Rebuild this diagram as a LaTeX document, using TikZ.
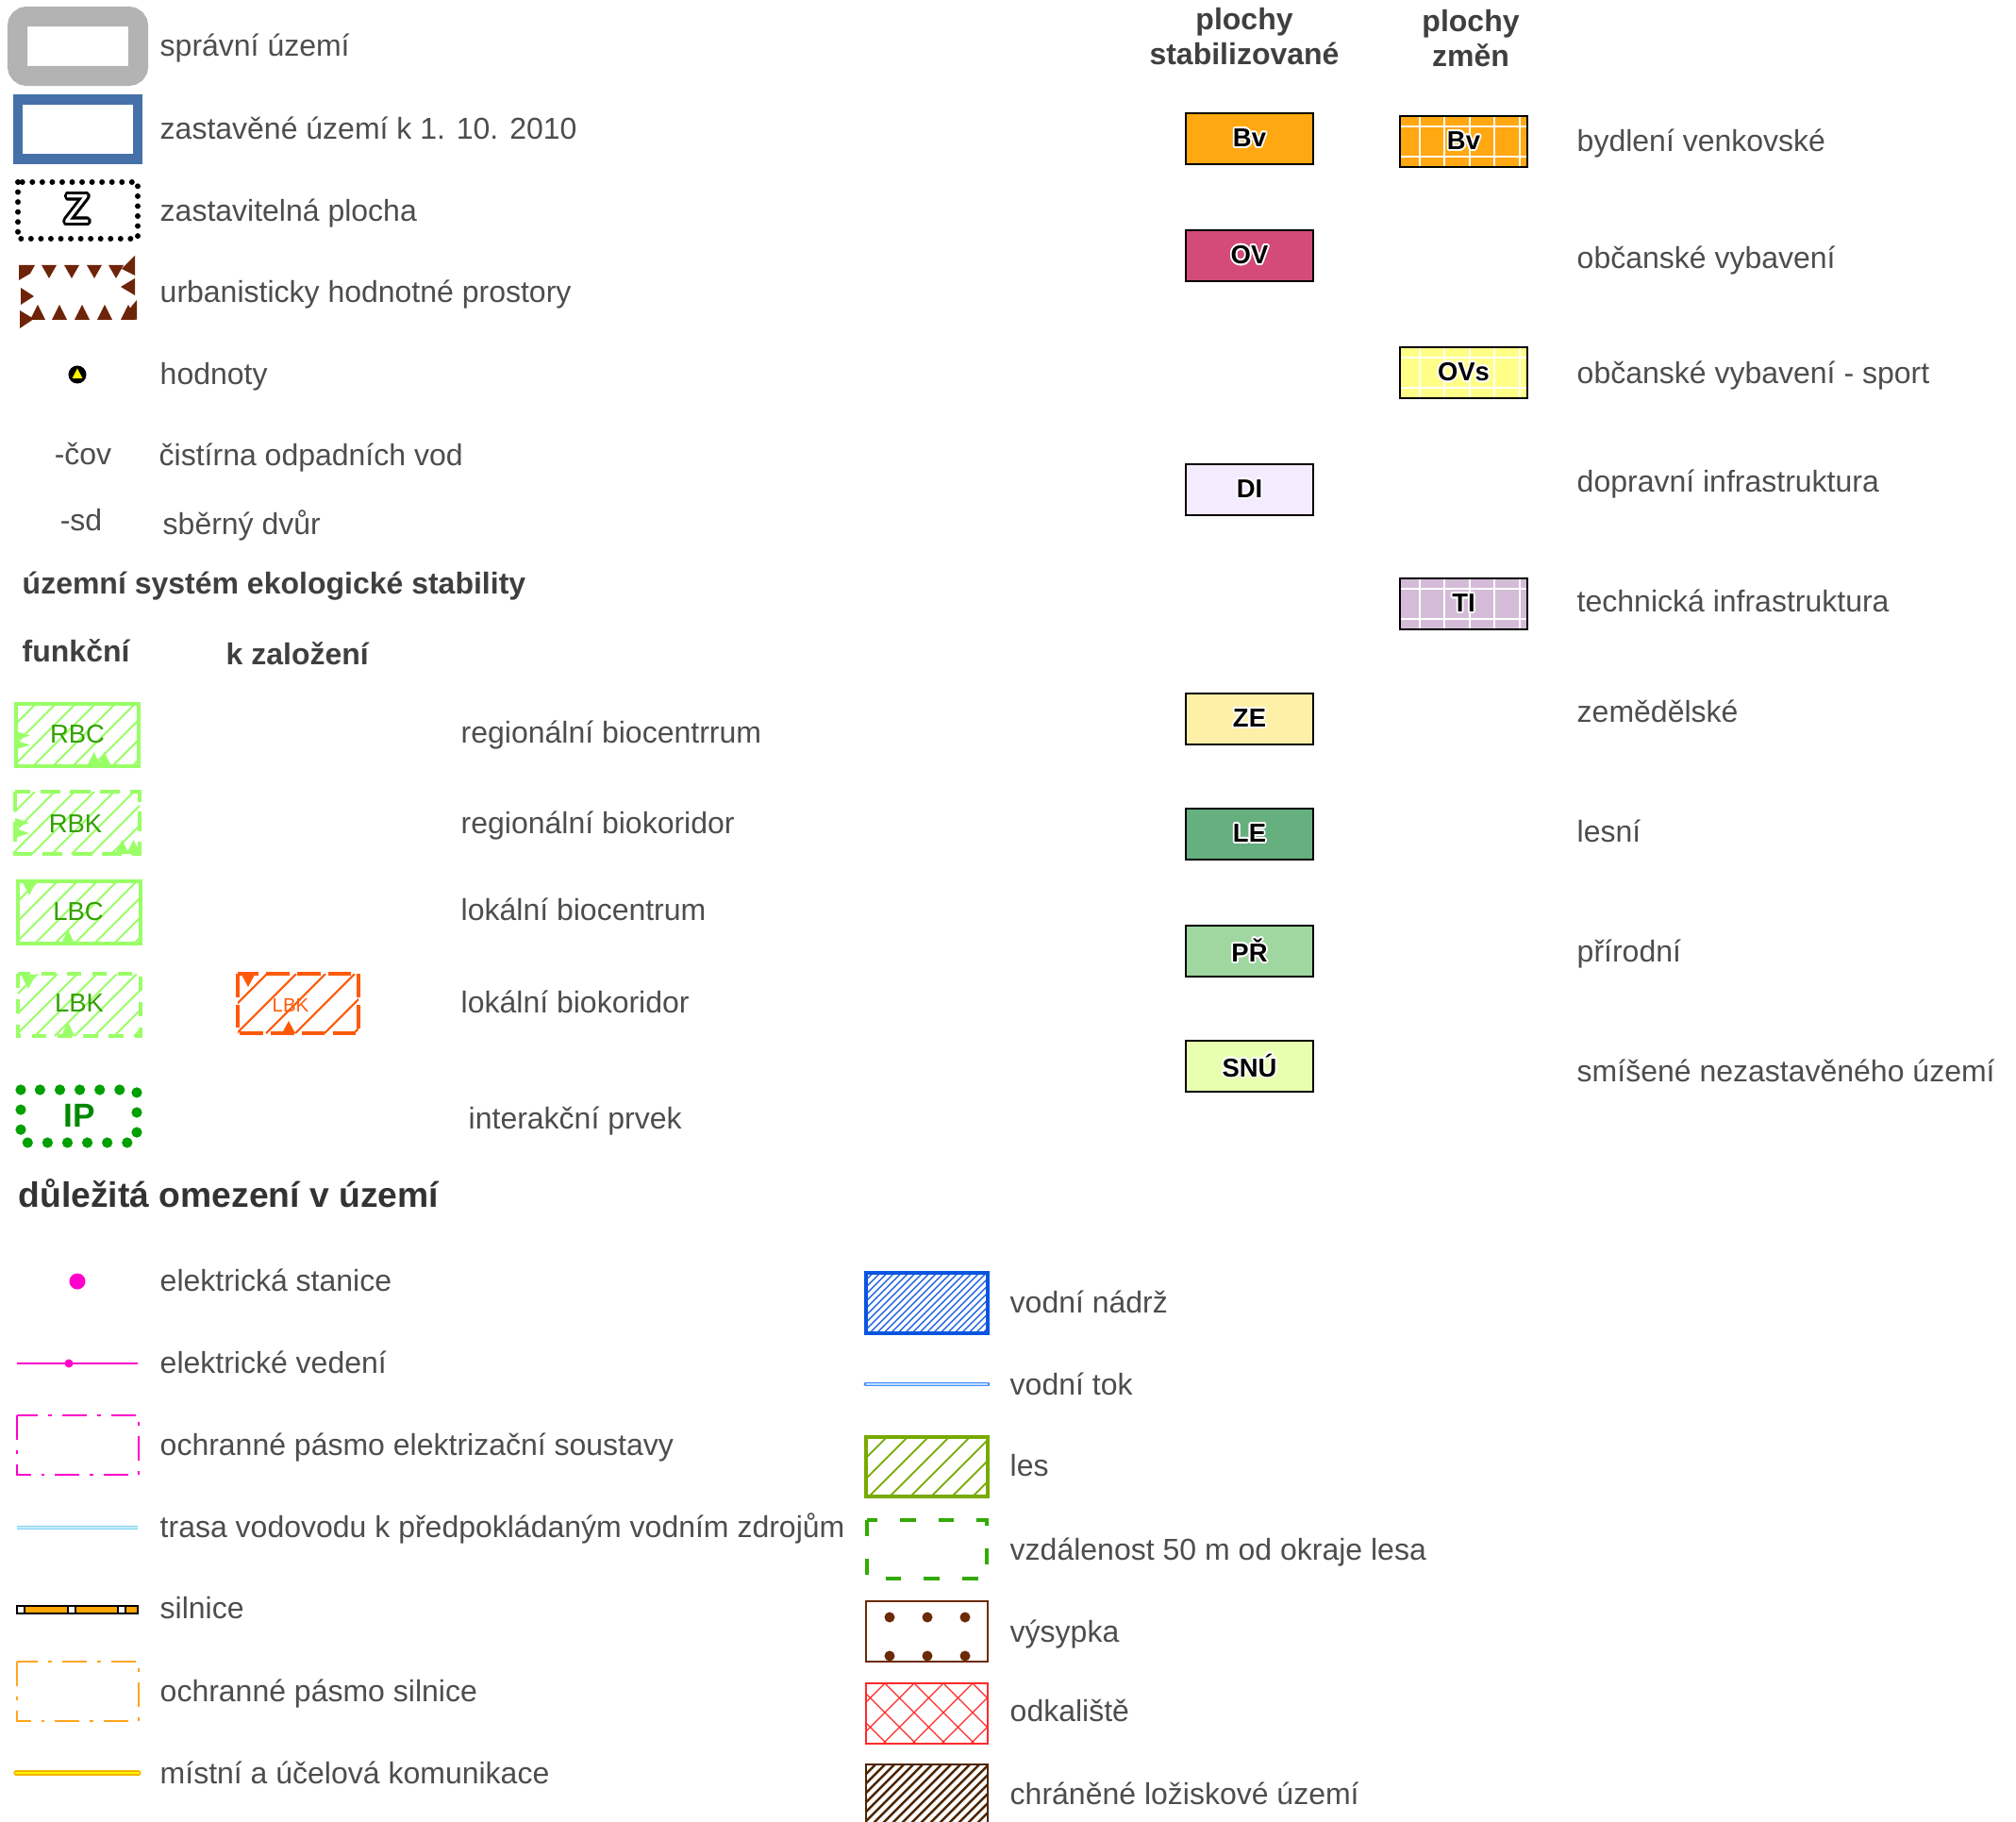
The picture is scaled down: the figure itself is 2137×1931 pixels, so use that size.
\documentclass[tikz,border=0pt]{standalone}
\usepackage{fontspec}
\setmainfont{Liberation Sans}
\usepackage[copies]{contour}
\contourlength{0.5pt}
\usetikzlibrary{positioning}

\definecolor{txt}{HTML}{4D4D4D}
\definecolor{hdrcol}{HTML}{3F3F3F}
\definecolor{grayfr}{HTML}{B3B3B3}
\definecolor{bluefr}{HTML}{4571A8}
\definecolor{urbcol}{HTML}{6E2408}
\definecolor{usesgreen}{HTML}{99FF66}
\definecolor{usestxt}{HTML}{33A000}
\definecolor{usesorange}{HTML}{FF5A0A}
\definecolor{ipgreen}{HTML}{00A000}
\definecolor{elcol}{HTML}{FF00CC}
\definecolor{vodcol}{HTML}{80D4F4}
\definecolor{silcol}{HTML}{FFA500}
\definecolor{opscol}{HTML}{FFA51F}
\definecolor{komout}{HTML}{F0B400}
\definecolor{nadrcol}{HTML}{0A55E0}
\definecolor{tokcol}{HTML}{3F8FFF}
\definecolor{lescol}{HTML}{78AA00}
\definecolor{vzdcol}{HTML}{33AA00}
\definecolor{vyscol}{HTML}{6B2A08}
\definecolor{odkcol}{HTML}{FF2A2A}
\definecolor{lozcol}{HTML}{4D2600}
\definecolor{bvcol}{HTML}{FFA812}
\definecolor{ovcol}{HTML}{D44A78}
\definecolor{ovscol}{HTML}{FFFF88}
\definecolor{dicol}{HTML}{F5EBFF}
\definecolor{ticol}{HTML}{D4BCD8}
\definecolor{zecol}{HTML}{FFF0A8}
\definecolor{lecol}{HTML}{66B07F}
\definecolor{prcol}{HTML}{A0D6A0}
\definecolor{snucol}{HTML}{E8FFB0}

\newcommand{\lgfont}{\fontsize{9.1pt}{10.5pt}\selectfont}
\newcommand{\boxfont}{\fontsize{7.8pt}{8pt}\selectfont\bfseries}

% hatch inside a rectangle: style, x0, y0, x1, y1, spacing
\newcommand{\hatchrect}[6]{%
  \begin{scope}
    \clip (#2,#3) rectangle (#4,#5);
    \pgfmathsetmacro{\hh}{#5-#3}
    \pgfmathsetmacro{\hw}{#4-#2+#5-#3}
    \foreach \k in {0,#6,...,\hw}
      \draw[#1] (#2+\k-\hh,#5) -- (#2+\k,#3);
  \end{scope}}

\begin{document}
\begin{tikzpicture}[x=0.01cm, y=-0.01cm,
  lbl/.style={anchor=mid west, inner sep=0pt, text=txt, font=\lgfont},
  hdr/.style={anchor=mid west, inner sep=0pt, text=hdrcol, font=\lgfont\bfseries},
  stbox/.style={draw=black, line width=0.7pt, minimum width=1.35cm, minimum height=0.54cm, inner sep=0pt, font=\boxfont},
  usesline/.style={usesgreen, line width=0.55pt},
  usesframe/.style={usesgreen, line width=1.1pt},
  usestag/.style={inner sep=0pt, text=usestxt, font=\fontsize{7.8pt}{8pt}\selectfont},
  dashdot/.style={line width=0.5pt, dash pattern=on 7.4pt off 3.1pt on 1.1pt off 3.1pt}]
\path[use as bounding box, fill=white] (0,0) rectangle (2137,1931);

% zakladni prvky
\draw[grayfr, line width=6pt, rounded corners=0.1cm] (18.5,17.5) rectangle (146.5,80.5);
\draw[bluefr, line width=3.1pt] (19,105.5) rectangle (146,168.5);
\draw[black, line width=1.7pt, line cap=round, dash pattern=on 0pt off 3pt] (19,193) rectangle (146,253);
\node[inner sep=0pt, text=white, font=\fontsize{12.4pt}{13pt}\selectfont] (zTag) at (82,223) {\contourlength{0.8pt}\contour{black}{Z}};
% urbanisticky hodnotne prostory
\fill[urbcol] (20,281) -- (37,281) -- (32,290) -- (20,297) -- cycle;
\foreach \tx in {52,76,100,123} \fill[urbcol] (\tx-8,281) -- (\tx+8,281) -- (\tx,295) -- cycle;
\fill[urbcol] (143,271) -- (143,292) -- (129,285) -- cycle;
\fill[urbcol] (143,295) -- (143,313) -- (128,304) -- cycle;
\fill[urbcol] (22,305) -- (36,314) -- (22,323) -- cycle;
\foreach \tx in {40,63,87,111,136} \fill[urbcol] (\tx-8,339) -- (\tx+8,339) -- (\tx,323) -- cycle;
\fill[urbcol] (145,318) -- (145,339) -- (135,330) -- cycle;
\fill[urbcol] (21,329) -- (36,338) -- (21,348) -- cycle;
% hodnoty
\fill[black] (82,397) circle (0.095cm);
\fill[yellow] (82,390.5) -- (76.5,401) -- (87.5,401) -- cycle;
\node[inner sep=0pt, text=txt, font=\lgfont] (cov) at (88,481) {-čov};
\node[inner sep=0pt, text=txt, font=\lgfont] (sd) at (86,551) {-sd};

\foreach \nm/\xx/\yy/\txt in {lSpr/169/50/správní území, lZast/169/138/zastavěné území k 1. 10. 2010,
    lZpl/169/225/zastavitelná plocha, lUrb/169/311/urbanisticky hodnotné prostory, lHod/169/398/hodnoty,
    lCov/168/484/čistírna odpadních vod, lSd/172/557/sběrný dvůr}
  \node[lbl] (\nm) at (\xx,\yy) {\txt};

% USES
\node[hdr] (hUses) at (23,620) {územní systém ekologické stability};
\node[hdr] (hFunk) at (23,692) {funkční};
\node[hdr] (hZal) at (239,695) {k založení};

\hatchrect{usesline}{17}{746}{147}{812}{21}
\draw[usesframe] (17,746) rectangle (147,812);
\fill[usesgreen] (17,775) -- (32,779.5) -- (17,784) -- cycle (17,785) -- (32,789.5) -- (17,794) -- cycle;
\fill[usesgreen] (92,812) -- (99.5,797) -- (107,812) -- cycle (103,812) -- (110.5,797) -- (118,812) -- cycle;
\node[usestag] (rbc) at (82,778) {RBC};

\hatchrect{usesline}{16}{839}{148}{905}{21}
\draw[usesframe, dash pattern=on 6pt off 3pt] (16,839) rectangle (148,905);
\fill[usesgreen] (16,867) -- (31,872) -- (16,877) -- cycle (16,878) -- (31,883) -- (16,888) -- cycle;
\fill[usesgreen] (122,905) -- (129.5,890) -- (137,905) -- cycle (134,905) -- (141.5,890) -- (149,905) -- cycle;
\node[usestag] (rbk) at (80,873) {RBK};

\hatchrect{usesline}{19}{934}{149}{1000}{21}
\draw[usesframe] (19,934) rectangle (149,1000);
\fill[usesgreen] (24,935) -- (38,935) -- (31,949) -- cycle (65,1000) -- (72,985) -- (79,1000) -- cycle;
\node[usestag] (lbc) at (83,966) {LBC};

\hatchrect{usesline}{19}{1032}{149}{1098}{21}
\draw[usesframe, dash pattern=on 4.3pt off 3.4pt] (19,1032) rectangle (149,1098);
\fill[usesgreen] (22,1033) -- (38,1033) -- (30,1048) -- cycle (65,1098) -- (72,1083) -- (79,1098) -- cycle;
\node[usestag] (lbk) at (84,1063) {LBK};

\hatchrect{usesorange, line width=0.6pt}{252}{1032}{380}{1095}{31}
\draw[usesorange, line width=1.1pt, dash pattern=on 7pt off 2.3pt] (252,1032) rectangle (380,1095);
\fill[usesorange] (256,1033) -- (270,1033) -- (263,1046) -- cycle (299,1095) -- (306,1082) -- (313,1095) -- cycle;
\node[inner sep=0pt, text=usesorange, font=\fontsize{5.8pt}{6pt}\selectfont] (lbkZal) at (308,1065) {LBK};

\draw[ipgreen, line width=3.2pt, line cap=round, dash pattern=on 0pt off 6pt] (22,1155) rectangle (145,1211);
\node[inner sep=0pt, text=ipgreen!85!black, font=\fontsize{10pt}{10pt}\selectfont\bfseries] (ip) at (84,1182) {IP};

\foreach \nm/\xx/\yy/\txt in {lRbc/488/778/regionální biocentrrum, lRbk/488/874/regionální biokoridor,
    lLbc/488/966/lokální biocentrum, lLbk/488/1064/lokální biokoridor, lIp/496/1187/interakční prvek}
  \node[lbl] (\nm) at (\xx,\yy) {\txt};

% dulezita omezeni
\node[hdr, text=black!80, font=\fontsize{10.6pt}{12pt}\selectfont\bfseries] (hOmez) at (19,1270) {důležitá omezení v území};

\fill[elcol] (82,1358) circle (0.085cm);
\draw[elcol, line width=0.8pt] (18,1445) -- (146,1445);
\fill[elcol] (73,1445) circle (0.045cm);
\draw[elcol, dashdot] (18,1500) rectangle (147,1563);
\draw[vodcol, line width=1.2pt] (18,1619) -- (146,1619);
\draw[white!55!vodcol, line width=0.35pt] (18,1619) -- (146,1619);
\draw[black, line width=0.6pt, fill=silcol] (18,1702) rectangle (146,1710);
\foreach \sx in {18,72,125} \draw[black, line width=0.5pt, fill=white] (\sx,1702) rectangle (\sx+8,1710);
\draw[opscol, dashdot] (18,1761) rectangle (147,1824);
\draw[komout, line width=1.5pt, line cap=round] (17,1879) -- (147,1879);
\draw[yellow, line width=0.8pt, line cap=round] (17,1879) -- (147,1879);

\foreach \nm/\yy/\txt in {lEst/1359/elektrická stanice, lEved/1446/elektrické vedení,
    lOpe/1533/ochranné pásmo elektrizační soustavy, lVodo/1620/trasa vodovodu k předpokládaným vodním zdrojům,
    lSil/1706/silnice, lOps/1794/ochranné pásmo silnice, lMist/1881/místní a účelová komunikace}
  \node[lbl] (\nm) at (169,\yy) {\txt};

\hatchrect{nadrcol!90!white, line width=0.4pt}{918}{1349}{1047}{1413}{7.5}
\draw[nadrcol, line width=1.1pt] (918,1349) rectangle (1047,1413);
\draw[tokcol, line width=1.4pt, line cap=round] (918,1467) -- (1047,1467);
\draw[white!70!tokcol, line width=0.45pt] (918,1467) -- (1047,1467);
\hatchrect{lescol, line width=0.5pt}{918}{1523}{1047}{1586}{22}
\draw[lescol, line width=1.1pt] (918,1523) rectangle (1047,1586);
\draw[vzdcol, line width=1.1pt, dash pattern=on 4.8pt off 6.8pt] (919,1611) rectangle (1046,1673);
\draw[vyscol, line width=0.6pt] (918,1697) rectangle (1047,1761);
\foreach \xx in {943,983,1023} \foreach \yy in {1714,1755} \fill[vyscol] (\xx,\yy) circle (0.055cm);
\begin{scope}
  \clip (918,1784) rectangle (1047,1848);
  \foreach \xx in {876,907,...,1120} {
    \draw[odkcol, line width=0.35pt] (\xx,1784) -- (\xx-64,1848);
    \draw[odkcol, line width=0.35pt] (\xx-62,1784) -- (\xx+2,1848);
  }
\end{scope}
\draw[odkcol, line width=0.5pt] (918,1784) rectangle (1047,1848);
\hatchrect{lozcol, line width=0.7pt}{918}{1870}{1047}{1945}{10}
\draw[lozcol, line width=0.6pt] (918,1870) rectangle (1047,1945);

\foreach \nm/\yy/\txt in {lNadr/1382/vodní nádrž, lTok/1469/vodní tok, lLes2/1555/les,
    lVzd/1644/vzdálenost 50 m od okraje lesa, lVys/1731/výsypka, lOdk/1815/odkaliště,
    lLoz/1903/chráněné ložiskové území}
  \node[lbl] (\nm) at (1070,\yy) {\txt};

% plochy
\node[hdr, anchor=center, align=center] (hStab) at (1319,39) {plochy\\stabilizované};
\node[hdr, anchor=center, align=center] (hZmen) at (1559,41) {plochy\\změn};

\foreach \nm/\yy/\col/\txt in {bvS/120/bvcol/Bv, ovS/244/ovcol/OV, diS/492/dicol/DI, zeS/735/zecol/ZE,
    leS/857/lecol/LE, prS/981/prcol/PŘ, snuS/1103/snucol/SNÚ}
  \node[stbox, fill=\col] (\nm) at (1324.5,\yy+27) {\contour{white}{\txt}};

\foreach \nm/\yy/\col/\txt in {bvZ/123/bvcol/Bv, ovsZ/368/ovscol/OVs, tiZ/613/ticol/TI} {
  \fill[\col] (1484,\yy) rectangle (1619,\yy+54);
  \foreach \gx in {21,47,74,100,127} \draw[white, line width=0.55pt] (1484+\gx,\yy) -- (1484+\gx,\yy+54);
  \foreach \gy in {11,43} \draw[white, line width=0.55pt] (1484,\yy+\gy) -- (1619,\yy+\gy);
  \node[stbox] (\nm) at (1551.5,\yy+27) {\contour{white}{\txt}};
}

\foreach \nm/\yy/\txt in {lBydl/151/bydlení venkovské, lObc/275/občanské vybavení, lSport/397/občanské vybavení - sport,
    lDopr/512/dopravní infrastruktura, lTech/639/technická infrastruktura, lZem/756/zemědělské,
    lLesni/883/lesní, lPrir/1010/přírodní, lSmis/1137/smíšené nezastavěného území}
  \node[lbl] (\nm) at (1671,\yy) {\txt};
\end{tikzpicture}
\end{document}
